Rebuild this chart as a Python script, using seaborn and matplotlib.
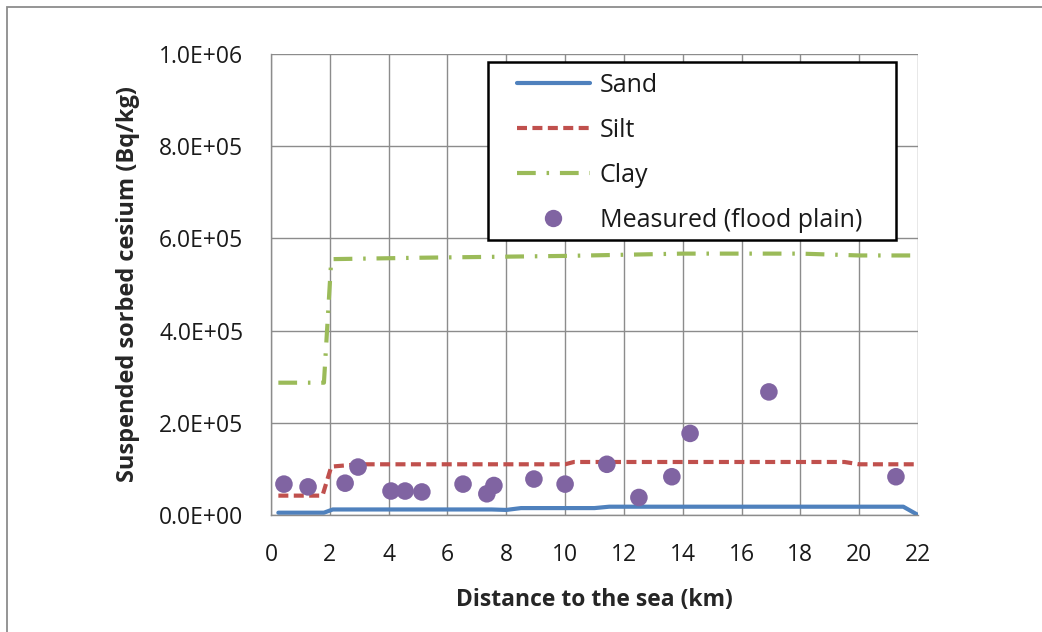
import numpy as np
import pandas as pd
import matplotlib
matplotlib.use("Agg")
import matplotlib.pyplot as plt
import seaborn as sns
from matplotlib.ticker import FuncFormatter, MultipleLocator
from matplotlib.patches import Rectangle
from matplotlib.lines import Line2D

# ---- data ----
sand_x = [0.25, 1.8, 2.1, 7.5, 8.0, 8.5, 11.0, 11.5, 21.5, 22.0]
sand_y = [5e3, 5e3, 12e3, 12e3, 11e3, 15e3, 15e3, 18e3, 18e3, 0]

silt_x = [0.25, 1.75, 2.05, 3.0, 10.0, 10.3, 19.5, 20.0, 22.0]
silt_y = [42e3, 42e3, 105e3, 110e3, 110e3, 115e3, 115e3, 110e3, 110e3]

clay_x = [0.25, 1.8, 2.05, 5.0, 10.0, 14.0, 18.0, 20.0, 22.0]
clay_y = [287e3, 287e3, 555e3, 558e3, 562e3, 567e3, 567e3, 563e3, 563e3]

meas_x = [0.44, 1.26, 2.52, 2.96, 4.08, 4.56, 5.13, 6.53, 7.34, 7.58,
          8.94, 10.0, 11.42, 12.51, 13.63, 14.25, 16.93, 21.25]
meas_y = [67e3, 61e3, 69e3, 104e3, 52e3, 52e3, 50e3, 67e3, 46e3, 64e3,
          78e3, 67e3, 110e3, 38e3, 83e3, 177e3, 267e3, 83e3]

series_names = ["Sand", "Silt", "Clay"]
legend_labels = ["Sand", "Silt", "Clay", "Measured (flood plain)"]

lines = pd.concat([
    pd.DataFrame({"x": sand_x, "y": sand_y, "series": "Sand"}),
    pd.DataFrame({"x": silt_x, "y": silt_y, "series": "Silt"}),
    pd.DataFrame({"x": clay_x, "y": clay_y, "series": "Clay"}),
], ignore_index=True)
meas = pd.DataFrame({"x": meas_x, "y": meas_y})

colors = {"Sand": "#4F81BD", "Silt": "#C0504D", "Clay": "#9BBB59"}
dashes = {"Sand": "", "Silt": (2.4, 1.3), "Clay": (4.5, 2.6, 0.6, 2.6)}
meas_color = "#8064A2"

sns.set_style("white")
plt.rcParams["font.family"] = ["Open Sans", "DejaVu Sans"]

W, H = 1042, 632
fig = plt.figure(figsize=(W / 100, H / 100), dpi=100)
L, R, T, B = 271, 918, 54, 515
ax = fig.add_axes([L / W, 1 - B / H, (R - L) / W, (B - T) / H])

sns.lineplot(data=lines, x="x", y="y", hue="series", style="series",
             palette=colors, dashes=dashes, linewidth=3.0, ax=ax,
             sort=False, estimator=None, legend=False)
sns.scatterplot(data=meas, x="x", y="y", color=meas_color, s=160,
                edgecolor="none", ax=ax, zorder=5)

ax.set_xlim(0, 22)
ax.set_ylim(0, 1e6)
ax.xaxis.set_major_locator(MultipleLocator(2))
ax.yaxis.set_major_locator(MultipleLocator(2e5))
ax.yaxis.set_major_formatter(FuncFormatter(lambda v, p: "{:.1E}".format(v)))
ax.grid(True, color="#8c8c8c", linewidth=1.0)
ax.set_axisbelow(True)
for s in ["top", "right"]:
    ax.spines[s].set_visible(False)
for s in ["left", "bottom"]:
    ax.spines[s].set_color("#8c8c8c")
    ax.spines[s].set_linewidth(1.0)
ax.tick_params(axis="both", which="major", color="#8c8c8c", width=1.0,
               labelsize=16.5, labelcolor="#1a1a1a", direction="out")
ax.tick_params(axis="x", length=6, pad=14)
ax.tick_params(axis="y", length=8, pad=12)
ax.set_xlabel("Distance to the sea (km)", fontsize=16.5, fontweight="bold",
              labelpad=15)
ax.set_ylabel("Suspended sorbed cesium (Bq/kg)", fontsize=17,
              fontweight="bold", labelpad=14)

# legend (frame drawn separately)
handles = [
    Line2D([], [], color=colors["Sand"], lw=3.0),
    Line2D([], [], color=colors["Silt"], lw=3.0, dashes=dashes["Silt"]),
    Line2D([], [], color=colors["Clay"], lw=3.0, dashes=dashes["Clay"]),
    Line2D([], [], color=meas_color, lw=0, marker="o", markersize=12.5,
           markeredgewidth=0),
]
frame = Rectangle((488 / W, 1 - 240 / H), (896 - 488) / W, (240 - 62) / H,
                  transform=fig.transFigure, facecolor="white",
                  edgecolor="black", linewidth=1.8, zorder=8, clip_on=False)
ax.add_patch(frame)
leg = ax.legend(handles, legend_labels, loc="upper left",
                bbox_to_anchor=(517 / W, 1 - 73 / H),
                bbox_transform=fig.transFigure,
                frameon=False, fontsize=18, handlelength=2.9,
                handletextpad=0.4, labelspacing=0.8, borderpad=0,
                borderaxespad=0)
leg.set_zorder(10)
for t in leg.get_texts():
    t.set_color("#1a1a1a")

# outer chart border
fig.patches.append(Rectangle((7 / W, -0.05), 1.5, 1 - 7 / H + 0.05,
                             transform=fig.transFigure, fill=False,
                             edgecolor="#8c8c8c", linewidth=1.3))

fig.savefig("out.png", dpi=100)
